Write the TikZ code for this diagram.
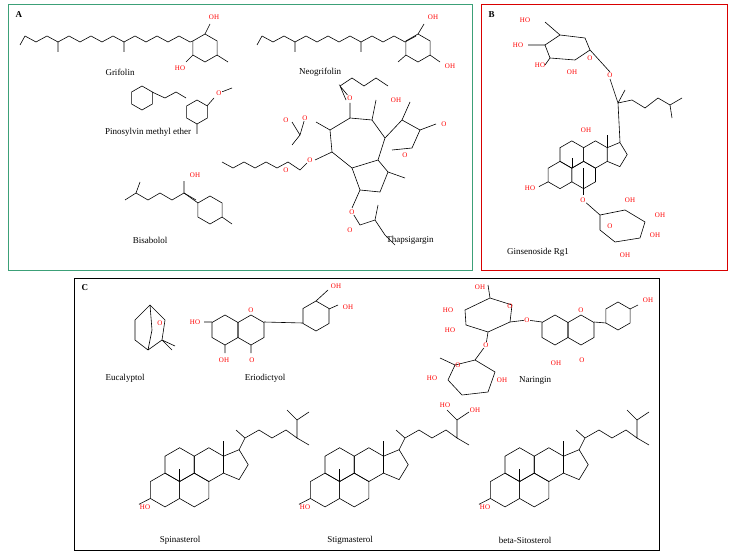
\documentclass[tikz,border=0pt]{standalone}
\usepackage{fontspec}
\setmainfont{Liberation Serif}
\tikzset{
  bond/.style={line width=0.6pt},
  hetero/.style={red, font=\scriptsize, inner sep=0.5pt},
  molname/.style={font=\small, inner sep=1pt},
  panel/.style={line width=1pt},
  paneltag/.style={font=\small\bfseries, anchor=north west}
}
% hexagon: centre x, centre y, radius
\newcommand{\hexa}[3]{\draw[bond] ({#1+#3*cos(30)},{#2+#3*sin(30)}) \foreach \a in {90,150,...,330}{ -- ({#1+#3*cos(\a)},{#2+#3*sin(\a)})} -- cycle;}
% zigzag chain: start x, y, number of bonds, direction (1 right, -1 left)
\newcommand{\zigzag}[4]{\draw[bond] (#1,#2) \foreach \i in {1,...,#3}{ -- ({#1+#4*11*\i},{#2+6*mod(\i,2)})};}
% steroid core at x, y, scale
\newcommand{\steroid}[3]{%
  \begin{scope}[shift={(#1,#2)}, scale=#3]
    \hexa{0}{0}{13}\hexa{22.5}{0}{13}\hexa{33.75}{-19.5}{13}\hexa{11.25}{-19.5}{13}
    \draw[bond] (45,-26) -- (57,-31) -- (64,-19.5) -- (57,-8) -- (45,-13);
    \draw[bond] (11.25,-6.5) -- (11.25,-16) (45,-26) -- (45,-38);
    \draw[bond] (-11.25,6.5) -- (-20,11);
  \end{scope}}
% sterol side chain from D ring top at x, y
\newcommand{\sidechain}[2]{\draw[bond] (#1,#2) -- ++(6,-12) -- ++(-9,-8) ++(9,8) -- ++(14,-8) -- ++(13,8) -- ++(14,-8) -- ++(11,8) -- ++(0,-18) -- ++(12,-8) ++(-12,8) -- ++(-10,-10) ++(10,28) -- ++(12,7);}
\begin{document}
\begin{tikzpicture}[x=1pt,y=-1pt]
\useasboundingbox (0,0) rectangle (735,556);
% panels
\draw[panel, color={rgb,255:red,60;green,160;blue,120}] (8,5) rectangle (472,270);
\draw[panel, red!85!black] (481,5) rectangle (727,270);
\draw[panel] (74,278) rectangle (659,550);
\node[paneltag] (tagA) at (12,8) {A};
\node[paneltag] (tagB) at (485,8) {B};
\node[paneltag] (tagC) at (78,281) {C};

% Grifolin
\zigzag{25}{36}{15}{1}
\draw[bond] (25,36) -- (20,45) (58,42) -- (58,52) (124,42) -- (124,52);
\hexa{205}{48}{14}
\draw[bond] (190,42) -- (193,41) (205,34) -- (210,24) (193,55) -- (186,62) (217,55) -- (228,62);
\node[hetero] (gOH1) at (214,17) {OH};
\node[hetero] (gOH2) at (180,68) {HO};
\node[molname] (grifolin) at (120,72) {Grifolin};

% Neogrifolin
\zigzag{262}{36}{14}{1}
\draw[bond] (262,36) -- (257,45) (295,42) -- (295,52) (361,42) -- (361,52);
\hexa{418}{48}{14}
\draw[bond] (418,34) -- (424,24) (406,55) -- (398,62) (430,55) -- (440,62);
\node[hetero] (nOH1) at (433,17) {OH};
\node[hetero] (nOH2) at (450,66) {OH};
\node[molname] (neogrifolin) at (320,72) {Neogrifolin};

% Pinosylvin methyl ether
\hexa{142}{98}{12}
\draw[bond] (152,92) -- (165,98) -- (176,92) -- (186,98);
\hexa{197}{112}{12}
\draw[bond] (207,106) -- (214,98) (197,124) -- (197,134);
\node[hetero] (pO) at (219,93) {O};
\draw[bond] (pO) -- (232,88);
\node[molname] (pinosylvin) at (148,132) {Pinosylvin methyl ether};

% Bisabolol
\draw[bond] (125,200) -- (136,193) -- (140,182) (136,193) -- (148,200) -- (160,193) -- (172,200) -- (184,193) -- (196,200) -- (184,193) -- (184,181);
\hexa{210}{210}{14}
\draw[bond] (184,193) -- (198,203) (222,217) -- (232,224);
\node[hetero] (bOH) at (195,175) {OH};
\node[molname] (bisabolol) at (150,240) {Bisabolol};

% Thapsigargin
\draw[bond] (330,130) -- (350,118) -- (372,120) -- (385,138) -- (378,160) -- (352,168) -- (332,152) -- cycle;
\draw[bond] (352,168) -- (360,190) -- (380,192) -- (388,172) -- (378,160);
\draw[bond] (385,138) -- (402,120) -- (420,130) -- (412,148) -- (392,150);
\draw[bond] (372,120) -- (376,100) (350,118) -- (350,103) (330,130) -- (316,122) (332,152) -- (315,160) (360,190) -- (352,208) (388,172) -- (405,178) (402,120) -- (410,102) (420,130) -- (436,124);
\node[hetero] (tO1) at (350,98) {O};
\node[hetero] (tO2) at (310,160) {O};
\node[hetero] (tO3) at (352,212) {O};
\node[hetero] (tO4) at (405,155) {O};
\node[hetero] (tOH1) at (396,100) {OH};
\node[hetero] (tO5) at (444,124) {O};
\node[hetero] (tO6) at (305,118) {O};
\draw[bond] (tO1) -- (340,86) -- (346,100) (340,86) -- (352,78) -- (364,86) -- (376,78) -- (388,86);
\draw[bond] (tO6) -- (300,135) -- (292,122) (300,135) -- (292,145);
\draw[bond] (tO2) -- (300,170) -- (288,162) \foreach \i in {1,...,6}{ -- ({288-11*\i},{162+6*mod(\i,2)})};
\draw[bond] (tO3) -- (360,225) -- (375,220) -- (385,235) -- (395,245) (375,220) -- (378,205);
\node[hetero] (tO8) at (286,120) {O};
\node[hetero] (tO9) at (286,170) {O};
\node[hetero] (tO10) at (350,230) {O};
\node[molname] (thapsigargin) at (410,240) {Thapsigargin};

% Ginsenoside Rg1
\draw[bond] (545,45) -- (560,35) -- (585,38) -- (590,50) -- (575,60) -- (550,58) -- cycle;
\node[hetero] (rO1) at (590,58) {O};
\node[hetero] (rOH1) at (525,20) {HO};
\node[hetero] (rOH2) at (518,45) {HO};
\node[hetero] (rOH3) at (540,65) {HO};
\node[hetero] (rOH4) at (572,72) {OH};
\node[hetero] (rO2) at (610,75) {O};
\draw[bond] (560,35) -- (545,22) (545,45) -- (528,45) (550,58) -- (545,65) (590,50) -- (610,72);
\steroid{560}{175}{1.05}
\draw[bond] (620,142) -- (618,103) -- (610,79) (618,103) -- (632,100) -- (645,108) -- (658,98) -- (670,105) -- (682,98) (670,105) -- (672,118) (618,103) -- (625,90);
\node[hetero] (rOH5) at (530,188) {HO};
\node[hetero] (rOH6) at (586,130) {OH};
\draw[bond] (583,168) -- (583,195);
\node[hetero] (rO3) at (583,200) {O};
\draw[bond] (rO3) -- (600,215) -- (625,210) -- (645,222) -- (640,238) -- (615,242) -- (600,230) -- (600,215);
\node[hetero] (rOH7) at (630,200) {OH};
\node[hetero] (rOH8) at (660,215) {OH};
\node[hetero] (rOH9) at (655,235) {OH};
\node[hetero] (rOH10) at (625,255) {OH};
\node[hetero] (rO4) at (610,226) {O};
\node[molname] (ginsenoside) at (538,252) {Ginsenoside Rg1};

% Eucalyptol
\draw[bond] (135,320) -- (150,305) -- (165,320) -- (162,340) -- (148,350) -- (135,340) -- cycle (150,305) -- (152,330) -- (148,350) (162,340) -- (175,346) (162,340) -- (172,350);
\node[hetero] (eO) at (160,323) {O};
\node[molname] (eucalyptol) at (125,378) {Eucalyptol};

% Eriodictyol
\hexa{225}{330}{15}\hexa{251}{330}{15}
\hexa{316}{316}{15}
\draw[bond] (264,322) -- (303,323);
\node[hetero] (erOH1) at (195,322) {HO};
\node[hetero] (erOH2) at (224,360) {OH};
\node[hetero] (erO1) at (251,310) {O};
\node[hetero] (erO2) at (252,360) {O};
\node[hetero] (erOH3) at (336,286) {OH};
\node[hetero] (erOH4) at (348,307) {OH};
\draw[bond] (212,322) -- (204,322) (225,345) -- (225,353) (251,345) -- (251,353) (316,301) -- (328,290) (329,309) -- (338,305);
\node[molname] (eriodictyol) at (265,378) {Eriodictyol};

% Naringin
\hexa{555}{330}{15}\hexa{581}{330}{15}
\hexa{618}{316}{14}
\draw[bond] (594,322) -- (606,323) (630,309) -- (638,305);
\node[hetero] (naOH1) at (648,300) {OH};
\node[hetero] (naO1) at (581,310) {O};
\node[hetero] (naO2) at (582,360) {O};
\node[hetero] (naOH2) at (556,363) {OH};
\node[hetero] (naO3) at (527,320) {O};
\draw[bond] (542,322) -- (naO3) -- (510,322);
\draw[bond] (465,310) -- (490,298) -- (512,305) -- (510,322) -- (488,332) -- (466,325) -- cycle (490,298) -- (488,285);
\node[hetero] (naO4) at (510,306) {O};
\node[hetero] (naOH3) at (480,287) {OH};
\node[hetero] (naOH4) at (448,310) {HO};
\node[hetero] (naOH5) at (450,330) {HO};
\node[hetero] (naO5) at (486,345) {O};
\draw[bond] (488,332) -- (naO5) -- (475,360);
\draw[bond] (455,365) -- (475,360) -- (495,372) -- (488,392) -- (462,395) -- (448,380) -- cycle (455,365) -- (440,358);
\node[hetero] (naO6) at (458,365) {O};
\node[hetero] (naOH6) at (432,378) {HO};
\node[hetero] (naOH7) at (445,405) {HO};
\node[hetero] (naOH8) at (502,380) {OH};
\node[hetero] (naOH9) at (475,410) {OH};
\node[molname] (naringin) at (535,380) {Naringin};

% Sterols
\steroid{165}{490}{1.3}
\node[hetero] (spOH) at (145,507) {HO};
\sidechain{239}{450}
\node[molname] (spinasterol) at (180,540) {Spinasterol};
\steroid{325}{490}{1.3}
\node[hetero] (stOH) at (305,507) {HO};
\sidechain{399}{450}
\node[molname] (stigmasterol) at (350,540) {Stigmasterol};
\steroid{505}{490}{1.3}
\node[hetero] (sitOH) at (485,507) {HO};
\sidechain{579}{450}
\node[molname] (sitosterol) at (525,540) {beta-Sitosterol};
\end{tikzpicture}
\end{document}
